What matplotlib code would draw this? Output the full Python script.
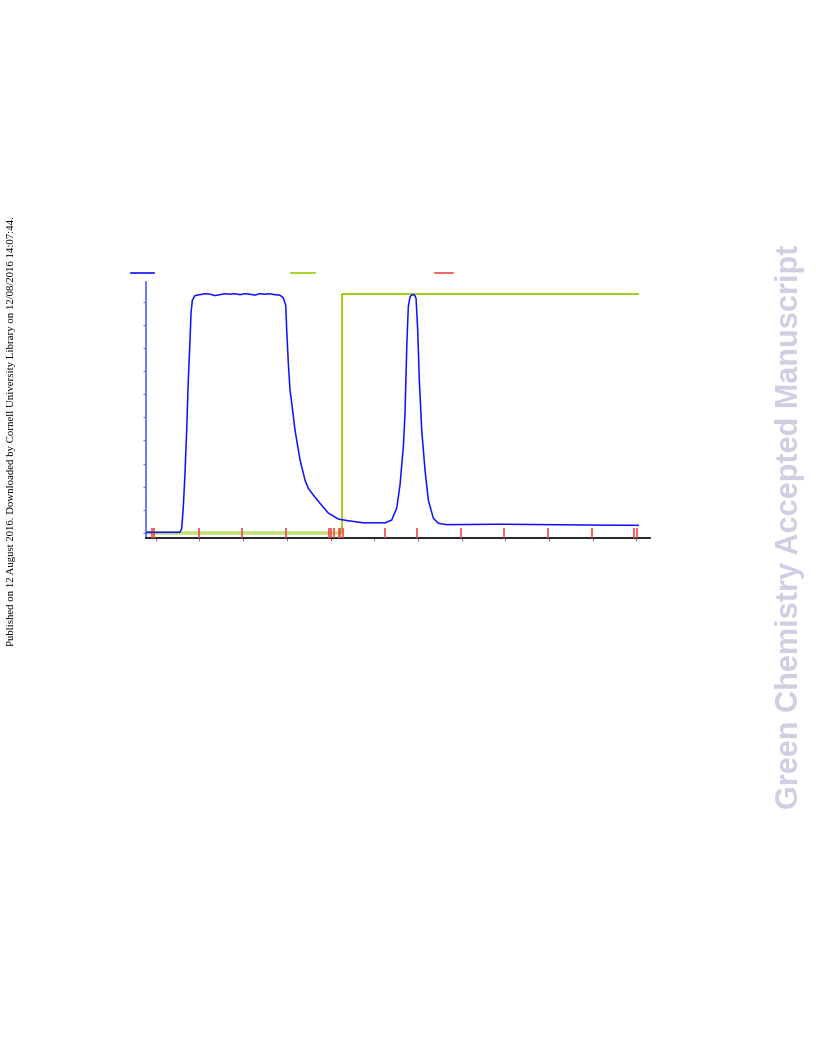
import matplotlib
matplotlib.use("Agg")
import matplotlib.pyplot as plt
from matplotlib.lines import Line2D
import numpy as np

# UV trace (blue)
uv_x = [-2.22, 5.56, 5.95, 6.32, 6.70, 7.09, 7.46, 7.85, 8.08, 8.38, 8.99,
        10.1, 11.3, 12.4, 13.6, 14.7, 15.8, 17.0, 18.1, 19.3, 20.4, 21.5, 22.7,
        23.8, 25.0, 26.1, 27.2, 28.4,
        29.2, 29.75, 29.98, 30.34, 30.73, 31.12, 31.88, 33.02, 34.17, 34.92,
        36.06, 37.6, 39.5, 41.8, 43.7, 47.5, 52.5, 54.0, 55.15, 55.9, 56.66,
        57.05, 57.44, 57.8, 58.19, 58.5, 58.95, 59.3, 59.57, 59.95, 60.32,
        60.87, 61.62, 62.38, 63.52, 64.67, 66.6, 78.8, 90.2, 101.7, 110.4]
uv_y = [0.015, 0.015, 0.10, 0.57, 1.30, 2.22, 3.30, 4.17, 4.75, 5.03, 5.13,
        5.15, 5.17, 5.16, 5.13, 5.15, 5.17, 5.16, 5.17, 5.15, 5.17, 5.16, 5.14,
        5.17, 5.16, 5.17, 5.15, 5.14,
        5.08, 4.92, 4.38, 3.67, 3.09, 2.81, 2.22, 1.58, 1.14, 0.965,
        0.82, 0.64, 0.43, 0.30, 0.27, 0.22, 0.22, 0.28, 0.54, 1.04, 1.86,
        2.59, 4.02, 4.89, 5.10, 5.14, 5.15, 5.13, 5.07, 4.38, 3.30,
        2.22, 1.36, 0.71, 0.32, 0.21, 0.18, 0.19, 0.18, 0.17, 0.166]

# Gradient / solvent step (green)
grad_x = [-2.22, 42.7, 42.7, 110.3]
grad_y = [0.006, 0.006, 5.155, 5.155]

# Fraction marks (red)
frac_x = [-0.85, -0.39, 9.91, 19.75, 29.82, 39.73, 40.05, 40.80, 41.95,
          42.24, 42.79, 52.47, 59.86, 69.86, 79.77, 89.84, 99.84, 109.52, 110.14]

x_ticks = list(range(0, 120, 10))
y_ticks = [i * 0.5 for i in range(0, 11)]

fig = plt.figure(figsize=(8.16, 10.56), dpi=100)
ax = fig.add_axes([145.7 / 816, 1 - 538 / 1056, (650 - 145.7) / 816, (538 - 281.7) / 1056])
ax.set_xlim(-2.29, 113.1)
ax.set_ylim(-0.108, 5.43)

ax.plot(grad_x[:2], grad_y[:2], color="#b5da55", lw=2.6, alpha=0.8, solid_capstyle="butt", zorder=2)
ax.plot(grad_x[1:], grad_y[1:], color="#99cc00", lw=1.3, zorder=2)
ax.vlines(frac_x, -0.108, 0.11, colors="#f04848", lw=1.4, alpha=0.85, zorder=3)
ax.plot(uv_x, uv_y, color="#1010ff", lw=1.1, zorder=4)

for s in ["top", "right"]:
    ax.spines[s].set_visible(False)
ax.spines["left"].set_color("#6a6aff")
ax.spines["left"].set_linewidth(1.3)
ax.spines["bottom"].set_color("black")
ax.spines["bottom"].set_linewidth(1.2)
ax.set_xticks(x_ticks)
ax.set_yticks(y_ticks)
ax.tick_params(axis="x", length=2, width=0.8, color="#888888", labelbottom=False)
ax.tick_params(axis="y", length=2, width=0.8, color="#6a6aff", labelleft=False)

# legend swatches (labels not rendered in the original)
ly = 1 - 273 / 1056
for x0, x1, c in [(131, 154, "#1010ff"), (291, 315, "#99cc00"), (435, 453, "#f04848")]:
    fig.add_artist(Line2D([x0 / 816, x1 / 816], [ly, ly], color=c, lw=1.2, transform=fig.transFigure))

fig.text(12 / 816, 1 - 431 / 1056,
         "Published on 12 August 2016. Downloaded by Cornell University Library on 12/08/2016 14:07:44.",
         rotation=90, ha="center", va="center", family="Liberation Serif", fontsize=7.75, color="black")
fig.text(790 / 816, 1 - 527 / 1056, "Green Chemistry Accepted Manuscript",
         rotation=90, ha="center", va="center", family="Liberation Sans", fontweight="bold",
         fontsize=22.1, color="#cfcfe4")

fig.savefig("out.png", dpi=100)
